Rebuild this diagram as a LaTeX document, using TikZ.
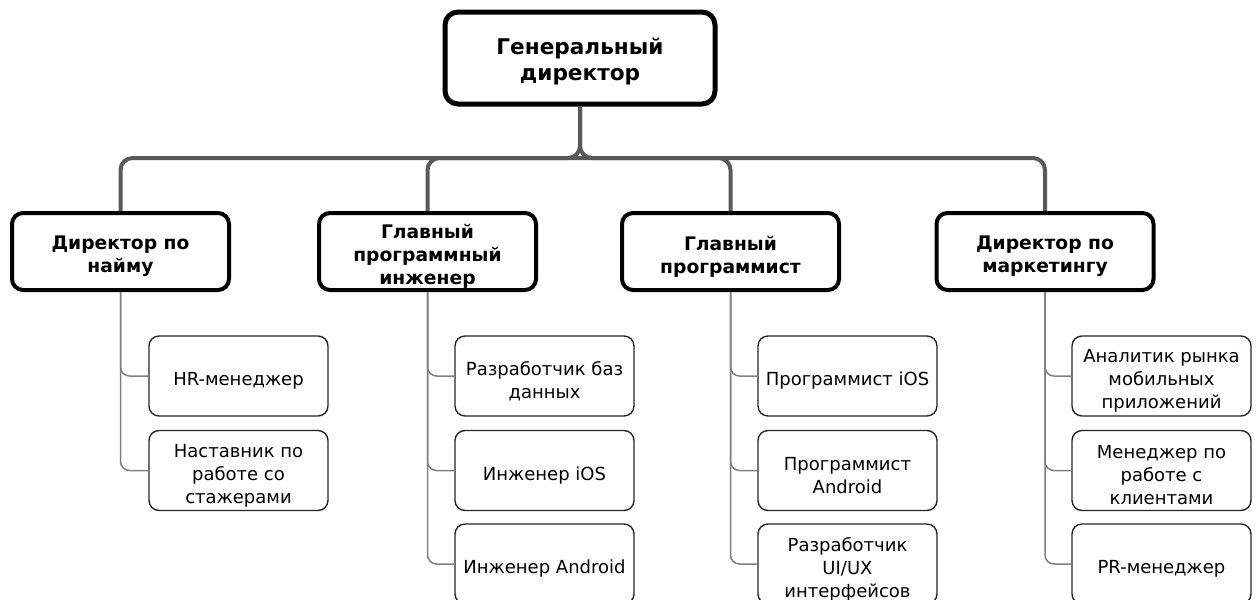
\documentclass[tikz,border=0pt]{standalone}
\usepackage{fontspec}
\setmainfont{DejaVu Sans}
\begin{document}
\begin{tikzpicture}[x=1pt,y=-1pt,
  boxtext/.style={align=center,inner sep=0pt,yshift=-5pt},
  topbox/.style={draw=black,line width=5pt,rounded corners=13pt,fill=white,
    minimum width=270pt,minimum height=92pt,inner sep=0pt,
    label={[boxtext,yshift=2pt,font=\fontsize{21.6}{26}\selectfont\bfseries]center:{#1}}},
  midbox/.style={draw=black,line width=4pt,rounded corners=11pt,fill=white,
    minimum width=217pt,minimum height=77pt,inner sep=0pt,
    label={[boxtext,font=\fontsize{18.7}{23}\selectfont\bfseries]center:{#1}}},
  leafbox/.style={draw=black!85,line width=1.4pt,rounded corners=10pt,fill=white,
    minimum width=179pt,minimum height=80pt,inner sep=0pt,
    label={[boxtext,font=\fontsize{18}{23}\selectfont]center:{#1}}},
  mainlink/.style={draw=black!65,line width=4pt,rounded corners=12pt},
  sublink/.style={draw=black!50,line width=1.5pt,rounded corners=9pt}]
\useasboundingbox (0,0) rectangle (1259,600);
\begin{scope}
\clip (0,0) rectangle (1259,600);

% chief
\node[topbox={Генеральный\\директор}] (ceo) at (580,58) {};
\coordinate (bar) at (580,158);

% second level
\node[midbox={Директор по\\найму}] (hr)  at (120.5,251.5) {};
\node[midbox={Главный\\программный\\инженер}] (eng) at (427.5,251.5) {};
\node[midbox={Главный\\программист}] (prg) at (730.5,251.5) {};
\node[midbox={Директор по\\маркетингу}] (mkt) at (1045,251.5) {};

% links from the chief
\draw[mainlink] (hr.north) -- (hr.north |- bar) -- (bar) -- (ceo.south);
\draw[mainlink] (mkt.north) -- (mkt.north |- bar) -- (bar) -- (ceo.south);
\draw[mainlink] (eng.north) -- (eng.north |- bar) -- (bar);
\draw[mainlink] (prg.north) -- (prg.north |- bar) -- (bar);

% third level
\node[leafbox={HR-менеджер}] (hr1) at (238.5,376) {};
\node[leafbox={Наставник по\\работе со\\стажерами}] (hr2) at (238.5,470.5) {};

\node[leafbox={Разработчик баз\\данных}] (eng1) at (544.5,376) {};
\node[leafbox={Инженер iOS}] (eng2) at (544.5,470.5) {};
\node[leafbox={Инженер Android}] (eng3) at (544.5,564) {};

\node[leafbox={Программист iOS}] (prg1) at (847.5,376) {};
\node[leafbox={Программист\\Android}] (prg2) at (847.5,470.5) {};
\node[leafbox={Разработчик\\UI/UX\\интерфейсов}] (prg3) at (847.5,564) {};

\node[leafbox={Аналитик рынка\\мобильных\\приложений}] (mkt1) at (1161.5,376) {};
\node[leafbox={Менеджер по\\работе с\\клиентами}] (mkt2) at (1161.5,470.5) {};
\node[leafbox={PR-менеджер}] (mkt3) at (1161.5,564) {};

% links to the third level
\foreach \p/\c in {hr/hr1,hr/hr2,eng/eng1,eng/eng2,eng/eng3,prg/prg1,prg/prg2,prg/prg3,mkt/mkt1,mkt/mkt2,mkt/mkt3}
  \draw[sublink] (\p.south) |- (\c.west);
\end{scope}
\end{tikzpicture}
\end{document}
